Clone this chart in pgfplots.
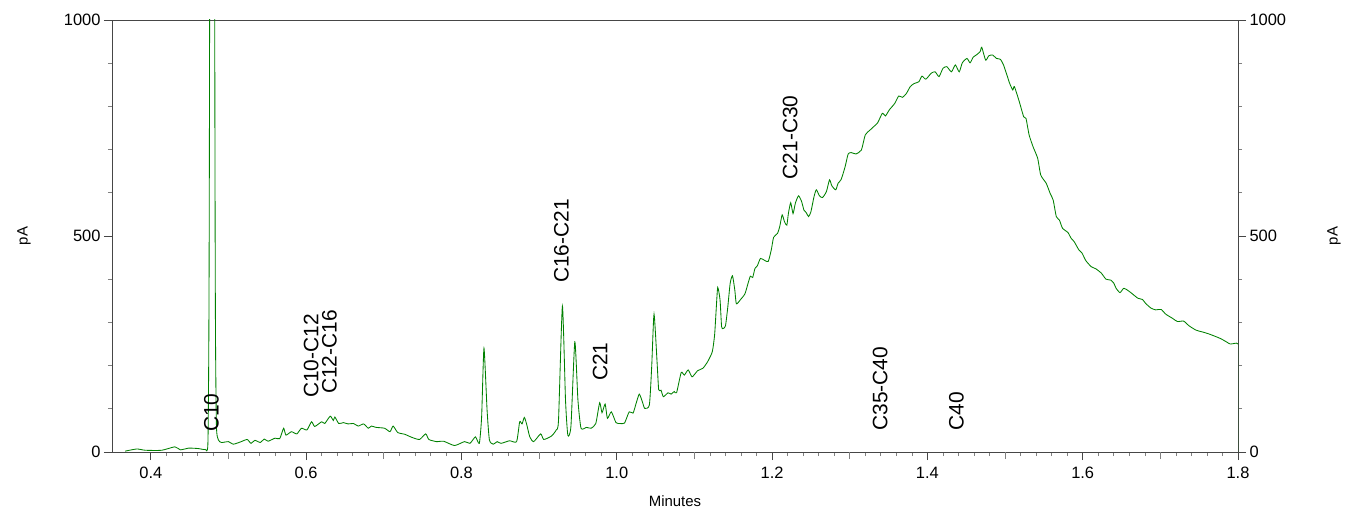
\documentclass[border=0pt]{standalone}
\usepackage{fontspec}
\setmainfont{Liberation Sans}
\usepackage{pgfplots}
\pgfplotsset{compat=1.18}
\usepackage{pgfplotstable}
\definecolor{chrom}{RGB}{0,128,0}
\definecolor{axgray}{RGB}{70,70,70}

\pgfplotstableread{
x y
0.367 2
0.382 7
0.393 4
0.414 4
0.431 12
0.438 5
0.449 9
0.461 8
0.470 6
0.4735 20
0.4748 300
0.4757 1000
0.4790 5000
0.4823 1000
0.4832 300
0.4845 60
0.487 28
0.491 22
0.500 24
0.506 18
0.515 23
0.524 29
0.529 20
0.534 27
0.541 22
0.546 30
0.551 25
0.560 32
0.566 31
0.571 55
0.574 39
0.581 47
0.588 42
0.594 55
0.601 51
0.607 70
0.611 59
0.620 70
0.624 66
0.631 83
0.635 73
0.637 81
0.642 66
0.648 68
0.654 65
0.661 66
0.667 60
0.674 65
0.680 55
0.684 60
0.690 57
0.701 55
0.708 47
0.712 60
0.718 45
0.727 41
0.736 34
0.746 29
0.754 42
0.758 29
0.768 24
0.777 25
0.791 15
0.804 24
0.811 20
0.818 35
0.823 20
0.826 82
0.829 240
0.833 97
0.836 28
0.841 18
0.846 24
0.851 20
0.862 26
0.871 24
0.875 70
0.878 65
0.881 80
0.884 64
0.888 35
0.893 24
0.902 42
0.906 29
0.916 37
0.922 51
0.925 74
0.930 338
0.934 120
0.937 39
0.941 60
0.946 255
0.950 120
0.954 55
0.961 57
0.967 55
0.973 66
0.978 114
0.981 91
0.985 111
0.988 78
0.993 93
0.999 68
1.004 66
1.010 67
1.016 93
1.021 90
1.025 113
1.029 134
1.033 116
1.036 101
1.042 109
1.045 198
1.048 319
1.052 205
1.054 144
1.057 143
1.060 128
1.066 137
1.070 134
1.074 140
1.077 137
1.083 184
1.087 178
1.092 190
1.097 174
1.104 188
1.111 194
1.117 209
1.123 232
1.126 271
1.128 329
1.130 381
1.133 352
1.135 290
1.137 286
1.140 292
1.143 336
1.146 390
1.149 408
1.152 375
1.154 343
1.159 352
1.165 366
1.169 390
1.172 407
1.175 404
1.178 425
1.181 431
1.185 448
1.190 444
1.195 441
1.199 468
1.202 497
1.207 506
1.210 523
1.213 549
1.216 533
1.219 525
1.221 552
1.224 577
1.227 552
1.230 576
1.234 593
1.238 580
1.241 560
1.244 554
1.247 545
1.250 556
1.254 591
1.257 607
1.261 593
1.265 589
1.270 603
1.274 630
1.277 616
1.282 607
1.285 622
1.289 631
1.294 660
1.298 690
1.302 693
1.308 690
1.315 699
1.320 734
1.326 745
1.332 755
1.336 762
1.342 784
1.346 778
1.351 792
1.358 807
1.363 824
1.368 821
1.373 830
1.378 846
1.383 853
1.389 857
1.393 870
1.398 863
1.405 877
1.410 880
1.415 869
1.420 888
1.425 892
1.431 880
1.436 896
1.441 880
1.445 901
1.451 911
1.455 901
1.459 914
1.463 919
1.468 927
1.470 937
1.475 907
1.479 917
1.484 919
1.489 911
1.494 909
1.498 896
1.502 875
1.506 853
1.510 838
1.512 846
1.518 813
1.524 776
1.527 772
1.531 734
1.536 707
1.542 680
1.546 641
1.553 622
1.558 599
1.562 583
1.566 545
1.570 537
1.574 518
1.581 508
1.585 495
1.589 487
1.595 468
1.599 461
1.604 443
1.611 429
1.617 424
1.624 414
1.630 400
1.636 398
1.640 391
1.643 379
1.648 369
1.653 379
1.659 373
1.664 366
1.671 356
1.677 353
1.681 344
1.688 333
1.694 329
1.701 330
1.707 319
1.716 309
1.722 302
1.730 303
1.737 292
1.746 282
1.754 278
1.763 273
1.777 263
1.785 255
1.790 250
1.798 252
1.800 250
}\chromdata

\begin{document}
\begin{tikzpicture}
\path[use as bounding box] (-112bp,-58bp) rectangle (1233bp,452bp);
% right-hand axis (drawn first, so the trace lies over it)
\begin{axis}[
  at={(0,0)}, anchor=south west,
  width=1126bp, height=432bp, scale only axis,
  xmin=0.35, xmax=1.8, ymin=0, ymax=1000,
  axis x line=none, axis y line*=right,
  ytick={0,500,1000}, minor y tick num=4,
  tick align=outside,
  major tick length=8bp, minor tick length=4bp,
  major tick style={axgray, line width=0.8bp},
  minor tick style={gray, line width=0.6bp},
  axis line style={axgray, line width=0.9bp},
  tick label style={font=\fontsize{16.5}{19}\selectfont},
  /pgf/number format/assume math mode=true,
  yticklabel style={/pgf/number format/1000 sep={}},
  ylabel={pA},
  ylabel style={font=\fontsize{15}{18}\selectfont, at={(axis description cs:1.0853,0.5)}, anchor=center},
]
\end{axis}
\begin{axis}[
  at={(0,0)}, anchor=south west,
  width=1126bp, height=432bp, scale only axis,
  xmin=0.35, xmax=1.8, ymin=0, ymax=1000,
  xtick={0.4,0.6,0.8,1.0,1.2,1.4,1.6,1.8},
  ytick={0,500,1000},
  minor x tick num=9, minor y tick num=4,
  extra x ticks={0.5,0.7,0.9,1.1,1.3,1.5,1.7},
  extra x tick labels={},
  extra x tick style={major tick style={gray, line width=0.7bp}, major tick length=7bp},
  xtick pos=bottom, ytick pos=left,
  tick align=outside,
  major tick length=8bp, minor tick length=4bp,
  major tick style={axgray, line width=0.8bp},
  minor tick style={gray, line width=0.6bp},
  axis line style={axgray, line width=0.9bp},
  tick label style={font=\fontsize{16.5}{19}\selectfont},
  /pgf/number format/assume math mode=true,
  xticklabel style={/pgf/number format/.cd, fixed, fixed zerofill, precision=1, /tikz/.cd, yshift=-4bp},
  yticklabel style={/pgf/number format/1000 sep={}},
  xlabel={Minutes},
  xlabel style={font=\fontsize{15}{18}\selectfont, at={(axis description cs:0.5,0)}, anchor=center, yshift=-49.5bp},
  ylabel={pA},
  ylabel style={font=\fontsize{15}{18}\selectfont, at={(axis description cs:-0.0781,0.5)}, anchor=center},
]
\addplot[chrom, line width=0.85bp, smooth, tension=0.35] table {\chromdata};
\addplot[chrom, line width=0.85bp] coordinates {(1.8,250) (1.8,0)};
\begin{scope}[every node/.style={rotate=90, anchor=west, inner sep=0pt, font=\fontsize{21}{24}\selectfont}]
\node at (axis cs:0.478,46) {C10};
\node at (axis cs:0.6066,125) {C10-C12};
\node at (axis cs:0.630,134) {C12-C16};
\node at (axis cs:0.9286,391) {C16-C21};
\node at (axis cs:0.9785,164) {C21};
\node at (axis cs:1.2234,631) {C21-C30};
\node at (axis cs:1.3393,49) {C35-C40};
\node at (axis cs:1.4373,49) {C40};
\end{scope}
\end{axis}
\end{tikzpicture}
\end{document}
